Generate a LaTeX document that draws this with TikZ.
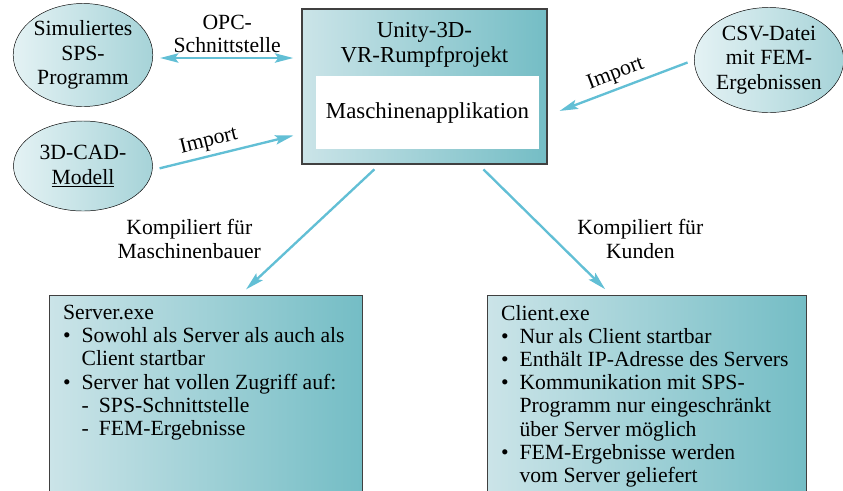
\documentclass[tikz,border=0pt]{standalone}
\usepackage{fontspec}
\setmainfont{Liberation Serif}
\usepackage{xcolor}
\definecolor{ArrowCyan}{HTML}{62BFD5}
\definecolor{BoxLight}{HTML}{CBE4E8}
\definecolor{BoxDark}{HTML}{74BDC5}
\definecolor{EllLight}{HTML}{E4F2F4}
\definecolor{EllDark}{HTML}{A6D3D8}
\usepackage{tikz}
\usetikzlibrary{arrows.meta,positioning,calc,shapes.geometric}

\newcommand{\bul}{\makebox[0.85em][l]{\textbullet}}
\newcommand{\ind}{\hspace*{0.85em}}
\newcommand{\dsh}{\makebox[0.8em][l]{-}}

\begin{document}
\begin{tikzpicture}[x=0.03cm, y=-0.03cm, >={Stealth[length=5.5mm,width=2.8mm,inset=1mm]},
  every node/.style={font=\fontsize{18.5}{19.8}\selectfont, align=center},
  src/.style={draw, ellipse, inner sep=0pt, left color=EllLight, right color=EllDark, minimum width=4.17cm,
    font=\fontsize{18.5}{20.8}\selectfont},
  box/.style={draw=black!75, line width=0.9pt, left color=BoxLight, right color=BoxDark, rectangle, inner sep=0pt},
  conn/.style={->, draw=ArrowCyan, line width=2pt, shorten <=6pt, shorten >=7pt}]
  \useasboundingbox (0,0) rectangle (843,490);
  \clip (0,0) rectangle (843,490);

  % sources
  \node[src, minimum height=3.09cm] (sps) at (83,55) {Simuliertes\\SPS-\\Programm};
  \node[src, minimum height=2.7cm] (cad) at (83,166) {3D-CAD-\\\underline{Modell}};
  \node[src, minimum height=3.15cm, minimum width=4.14cm] (csv) at (769,60) {CSV-Datei\\mit FEM-\\Ergebnissen};

  % project
  \node[box, minimum width=7.35cm, minimum height=4.65cm] (unity) at (424.5,86.5) {};
  \node[below=0.28cm of unity.north, font=\fontsize{19.5}{21.3}\selectfont] (title) {Unity-3D-\\VR-Rumpfprojekt};
  \node[fill=white, minimum width=6.69cm, minimum height=2.19cm, font=\fontsize{19.5}{21.3}\selectfont] (app) at (427.5,112.5) {Maschinenapplikation};

  % executables
  \node[box, anchor=north west, minimum width=9.39cm, minimum height=6.15cm] (server) at (49,295) {};
  \node[anchor=north west, align=left] (servertxt) at ($(server.north west)+(10,6)$) {Server.exe\\
    \bul Sowohl als Server als auch als\\
    \ind Client startbar\\
    \bul Server hat vollen Zugriff auf:\\
    \ind\dsh SPS-Schnittstelle\\
    \ind\dsh FEM-Ergebnisse};
  \node[box, anchor=north west, minimum width=9.57cm, minimum height=6.15cm] (client) at (487,295) {};
  \node[anchor=north west, align=left] (clienttxt) at ($(client.north west)+(10,6)$) {Client.exe\\
    \bul Nur als Client startbar\\
    \bul Enthält IP-Adresse des Servers\\
    \bul Kommunikation mit SPS-\\
    \ind Programm nur eingeschränkt\\
    \ind über Server möglich\\
    \bul FEM-Ergebnisse werden\\
    \ind vom Server geliefert};

  % connectors
  \draw[conn, <->] ($(sps.east)+(0,3)$) -- node[above] {OPC-\\Schnittstelle} ($(unity.west |- sps)+(0,3)$);
  \draw[conn] ($(cad.east)+(0,4)$) -- node[above, sloped, pos=0.4] {Import} ($(unity.south west)+(0,-31)$);
  \draw[conn, shorten >=11pt] (csv.west) -- node[above, sloped] {Import} ($(unity.east)+(0,29)$);
  \draw[conn] ($(unity.south)+(-45,0)$) -- node[pos=0.57, left=1.02cm] {Kompiliert für\\Maschinenbauer} ($(server.north)+(34,0)$);
  \draw[conn] ($(unity.south)+(54,0)$) -- node[pos=0.57, right=0.55cm] {Kompiliert für\\Kunden} ($(client.north)+(-36,0)$);
\end{tikzpicture}
\end{document}
